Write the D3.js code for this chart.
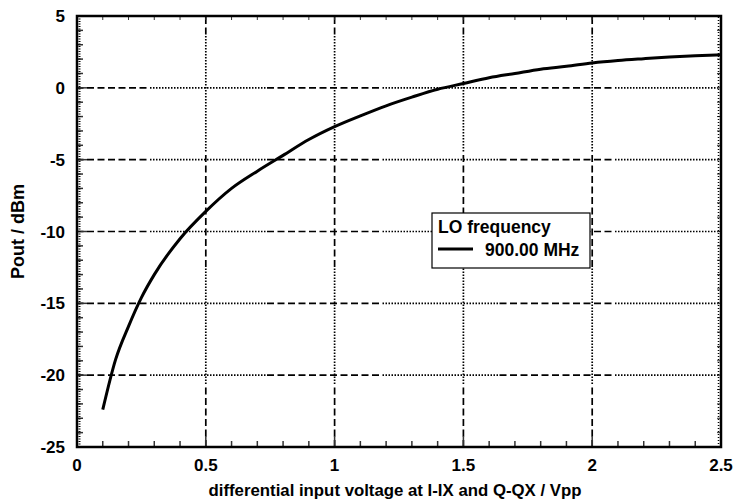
<!DOCTYPE html>
<html>
<head>
<meta charset="utf-8">
<script src="https://cdn.jsdelivr.net/npm/d3@7"></script>
<style>
	body { margin: 0; background: #fff; }
	svg text { font-family: "Liberation Sans", Arial, sans-serif; font-weight: bold; fill: #000; }
</style>
</head>
<body>
<svg id="chart"></svg>
<script>
// measured curve, LO 900 MHz
let voltage = [0.1, 0.15, 0.2, 0.25, 0.3, 0.4, 0.5, 0.6, 0.7, 0.8, 0.9, 1.0, 1.1, 1.2, 1.3, 1.4, 1.5, 1.6, 1.7, 1.8, 1.9, 2.0, 2.1, 2.2, 2.3, 2.4, 2.5];
let pout = [-22.4, -18.9, -16.6, -14.6, -13.0, -10.5, -8.6, -7.0, -5.8, -4.7, -3.6, -2.7, -1.95, -1.25, -0.65, -0.1, 0.3, 0.7, 1.0, 1.3, 1.5, 1.73, 1.9, 2.03, 2.15, 2.24, 2.3];
let xTicks = [0, 0.5, 1, 1.5, 2, 2.5];
let xTickLabels = ["0", "0.5", "1", "1.5", "2", "2.5"];
let yTicks = [5, 0, -5, -10, -15, -20, -25];
let legendTitle = "LO frequency";
let seriesName = "900.00 MHz";

function init() {
	let width = 735, height = 502;
	let margin = {top: 16, right: 14, bottom: 55, left: 77};
	let svg = d3.select("svg#chart")
		.attr("width", width)
		.attr("height", height);

	let x = d3.scaleLinear().domain([0, 2.5]).range([margin.left, width - margin.right]);
	let y = d3.scaleLinear().domain([-25, 5]).range([height - margin.bottom, margin.top]);
	let x0 = x.range()[0], x1 = x.range()[1];
	let y0 = y.range()[0], y1 = y.range()[1];

	// grid pattern: a run of dashes, then a run of dots
	let pat = [];
	for (let i = 0; i < 11; i++) pat.push(7, 3.5);
	for (let i = 0; i < 39; i++) pat.push(1.5, 1.5);
	let dash = pat.join(",");

	svg.append("g").selectAll("line.hgrid")
		.data(yTicks.filter(d => d > -25 && d < 5))
		.enter().append("line")
		.attr("class", "hgrid")
		.attr("x1", x0).attr("x2", x1)
		.attr("y1", d => y(d)).attr("y2", d => y(d))
		.attr("stroke", "#000").attr("stroke-width", 1.7)
		.attr("stroke-dasharray", dash)
		.attr("stroke-dashoffset", -(115 - 40) - 115);

	svg.append("g").selectAll("line.vgrid")
		.data(xTicks.filter(d => d > 0 && d < 2.5))
		.enter().append("line")
		.attr("class", "vgrid")
		.attr("x1", d => x(d)).attr("x2", d => x(d))
		.attr("y1", y0).attr("y2", y1)
		.attr("stroke", "#000").attr("stroke-width", 1.7)
		.attr("stroke-dasharray", dash)
		.attr("stroke-dashoffset", -(115 - 50) - 115);

	// minor ticks
	let xMinor = d3.range(0, 2.5001, 0.1);
	let yMinor = d3.range(-25, 5.001, 1);
	let ticks = svg.append("g").attr("stroke", "#333");
	ticks.selectAll("line.xb").data(xMinor).enter().append("line")
		.attr("x1", d => x(d)).attr("x2", d => x(d))
		.attr("y1", y0).attr("y2", (d, i) => y0 - (i % 5 == 0 ? 11 : 6))
		.attr("stroke-width", 1.5);
	ticks.selectAll("line.xt").data(xMinor).enter().append("line")
		.attr("x1", d => x(d)).attr("x2", d => x(d))
		.attr("y1", y1).attr("y2", y1 + 4)
		.attr("stroke-width", 1);
	ticks.selectAll("line.yl").data(yMinor).enter().append("line")
		.attr("x1", x0).attr("x2", (d, i) => x0 + (i % 5 == 0 ? 10 : 6))
		.attr("y1", d => y(d)).attr("y2", d => y(d))
		.attr("stroke-width", 1.5);
	ticks.selectAll("line.yr").data(yMinor).enter().append("line")
		.attr("x1", x1).attr("x2", x1 - 4)
		.attr("y1", d => y(d)).attr("y2", d => y(d))
		.attr("stroke-width", 1);

	// ruler-like fine edge along left and right
	svg.append("line")
		.attr("x1", x0 + 2.5).attr("x2", x0 + 2.5).attr("y1", y0).attr("y2", y1)
		.attr("stroke", "#000").attr("stroke-width", 2).attr("stroke-dasharray", "1,1.5");
	svg.append("line")
		.attr("x1", x1 - 2.5).attr("x2", x1 - 2.5).attr("y1", y0).attr("y2", y1)
		.attr("stroke", "#000").attr("stroke-width", 1.5).attr("stroke-dasharray", "1,2");

	// frame
	svg.append("rect")
		.attr("x", x0).attr("y", y1)
		.attr("width", x1 - x0).attr("height", y0 - y1)
		.attr("fill", "none").attr("stroke", "#000").attr("stroke-width", 2.5);

	// tick labels
	svg.append("g").selectAll("text.xl")
		.data(xTicks).enter().append("text")
		.attr("x", d => x(d)).attr("y", y0 + 24)
		.attr("text-anchor", "middle")
		.style("font-size", "17px")
		.text((d, i) => xTickLabels[i]);
	svg.append("g").selectAll("text.yl")
		.data(yTicks).enter().append("text")
		.attr("x", x0 - 12).attr("y", d => y(d) + 6)
		.attr("text-anchor", "end")
		.style("font-size", "17px")
		.text(d => d);

	// axis titles
	svg.append("text")
		.attr("x", (x0 + x1) / 2 - 4).attr("y", height - 6)
		.attr("text-anchor", "middle")
		.style("font-size", "16.8px")
		.text("differential input voltage at I-IX and Q-QX / Vpp");
	svg.append("text")
		.attr("transform", "translate(24," + ((y0 + y1) / 2) + ") rotate(-90)")
		.attr("text-anchor", "middle")
		.style("font-size", "18px")
		.text("Pout / dBm");

	// curve
	let line = d3.line()
		.x((d, i) => x(voltage[i]))
		.y(d => y(d))
		.curve(d3.curveMonotoneX);
	svg.append("path")
		.datum(pout)
		.attr("d", line)
		.attr("fill", "none")
		.attr("stroke", "#000")
		.attr("stroke-width", 3);

	// legend
	let lg = svg.append("g").attr("transform", "translate(432,213)");
	lg.append("rect")
		.attr("width", 158).attr("height", 55)
		.attr("fill", "#fff").attr("stroke", "#000").attr("stroke-width", 1.2);
	lg.append("text").attr("x", 6).attr("y", 20).style("font-size", "17.5px").text(legendTitle);
	lg.append("line").attr("x1", 6).attr("x2", 41).attr("y1", 36).attr("y2", 36)
		.attr("stroke", "#000").attr("stroke-width", 3);
	lg.append("text").attr("x", 53).attr("y", 43).style("font-size", "17.5px").text(seriesName);
}

init();
</script>
</body>
</html>
